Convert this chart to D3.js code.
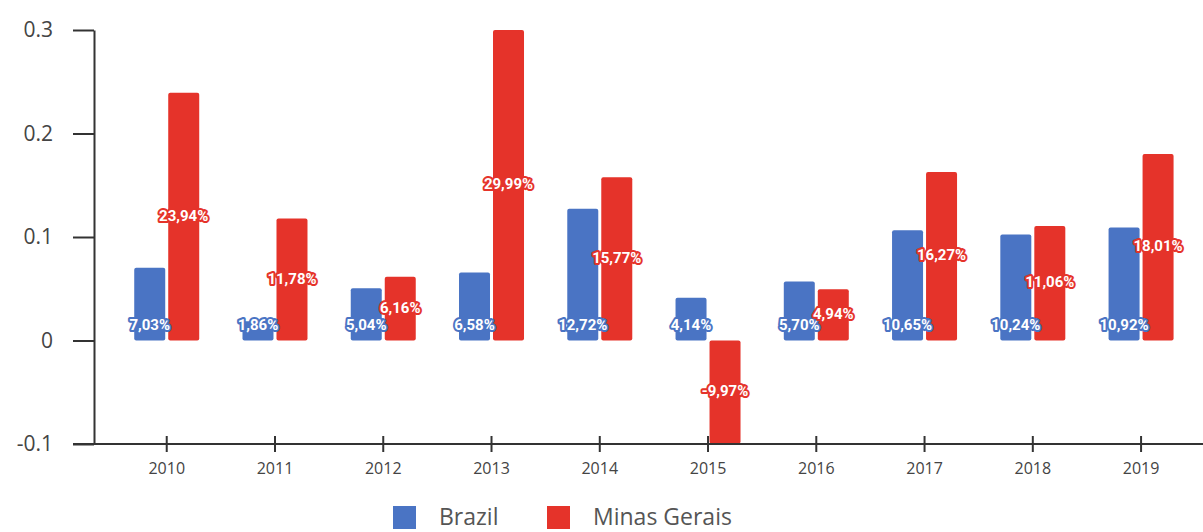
<!DOCTYPE html>
<html>
<head>
<meta charset="utf-8">
<script src="https://cdn.jsdelivr.net/npm/d3@7"></script>
<style>
  body { margin: 0; background: #fff; }
  svg { display: block; font-family: "Open Sans", sans-serif; }
</style>
</head>
<body>
<svg></svg>
<script>
var years = ["2010", "2011", "2012", "2013", "2014", "2015", "2016", "2017", "2018", "2019"];
var brazil = [7.03, 1.86, 5.04, 6.58, 12.72, 4.14, 5.70, 10.65, 10.24, 10.92];
var minas = [23.94, 11.78, 6.16, 29.99, 15.77, -9.97, 4.94, 16.27, 11.06, 18.01];
var yTicks = [-0.1, 0, 0.1, 0.2, 0.3];
var seriesNames = ["Brazil", "Minas Gerais"];

var width = 1203;
var height = 532;
var blue = "#4a74c4";
var red = "#e5332a";

var svg = d3.select("svg").attr("width", width).attr("height", height);

var x = d3.scaleBand()
  .domain(years)
  .range([112.6, 1195.2]);

var y = d3.scaleLinear()
  .domain([-0.1, 0.3])
  .range([444, 30]);

var fmt = function(v) { return v.toFixed(2).replace(".", ",") + "%"; };

// y axis
var yAxis = d3.axisLeft(y)
  .tickValues(yTicks)
  .tickSizeInner(21)
  .tickSizeOuter(0)
  .tickPadding(20)
  .tickFormat(function(d) { return d === 0 ? "0" : String(d); });
var gy = svg.append("g")
  .attr("transform", "translate(94,0)")
  .call(yAxis);
gy.select(".domain").attr("stroke", "#333").attr("stroke-width", 2);
gy.selectAll(".tick line").attr("stroke", "#333").attr("stroke-width", 2);
gy.selectAll(".tick text")
  .attr("fill", "#444")
  .style("font-size", "21px")
  .style("font-family", "'Open Sans', sans-serif");

// bars
var bw = 31;
var gap = 1.5;

svg.append("g").selectAll("rect")
  .data(brazil)
  .join("rect")
    .attr("x", (d, i) => x(years[i]) + x.bandwidth() / 2 - gap - bw)
    .attr("y", d => y(Math.max(0, d / 100)))
    .attr("width", bw)
    .attr("height", d => Math.abs(y(d / 100) - y(0)))
    .attr("rx", 2)
    .attr("fill", blue);

svg.append("g").selectAll("rect")
  .data(minas)
  .join("rect")
    .attr("x", (d, i) => x(years[i]) + x.bandwidth() / 2 + gap)
    .attr("y", d => y(Math.max(0, d / 100)))
    .attr("width", bw)
    .attr("height", d => Math.abs(y(d / 100) - y(0)))
    .attr("rx", 2)
    .attr("fill", red);

// x axis line
svg.append("line")
  .attr("x1", 73).attr("x2", width)
  .attr("y1", y(-0.1)).attr("y2", y(-0.1))
  .attr("stroke", "#333").attr("stroke-width", 2);

var xAxis = d3.axisBottom(x).tickSize(0).tickPadding(19);
var gx = svg.append("g")
  .attr("transform", "translate(0," + y(-0.1) + ")")
  .call(xAxis);
gx.select(".domain").remove();
gx.selectAll(".tick line")
  .attr("y1", -8).attr("y2", 8)
  .attr("stroke", "#333").attr("stroke-width", 2);
gx.selectAll(".tick text")
  .attr("fill", "#444")
  .style("font-size", "16px")
  .style("font-family", "'Open Sans', sans-serif");

// value labels
function label(sel, color) {
  sel.attr("text-anchor", "middle")
    .attr("dominant-baseline", "central")
    .attr("fill", "#fff")
    .attr("stroke", color)
    .attr("stroke-width", 4)
    .attr("stroke-linejoin", "round")
    .attr("paint-order", "stroke")
    .style("font-size", "15px")
    .style("font-weight", "bold")
    .style("font-family", "Roboto, sans-serif");
}

svg.append("g").selectAll("text")
  .data(brazil)
  .join("text")
    .attr("x", (d, i) => x(years[i]) + x.bandwidth() / 2 - gap - bw / 2)
    .attr("y", y(0) - 16)
    .text(fmt)
    .call(label, blue);

svg.append("g").selectAll("text")
  .data(minas)
  .join("text")
    .attr("x", (d, i) => x(years[i]) + x.bandwidth() / 2 + gap + bw / 2)
    .attr("y", d => (y(d / 100) + y(0)) / 2 - 1)
    .text(fmt)
    .call(label, red);

// legend (kept just inside the bottom edge)
var legendX = [393, 547];
var colors = [blue, red];
var lg = svg.append("g").selectAll("g")
  .data(seriesNames)
  .join("g")
    .attr("transform", (d, i) => "translate(" + legendX[i] + ",506)");
lg.append("rect")
  .attr("width", 23).attr("height", 23)
  .attr("fill", (d, i) => colors[i]);
lg.append("text")
  .attr("x", 46).attr("y", 19)
  .attr("fill", "#555")
  .style("font-size", "23px")
  .style("font-family", "'Open Sans', sans-serif")
  .text(d => d);
</script>
</body>
</html>
